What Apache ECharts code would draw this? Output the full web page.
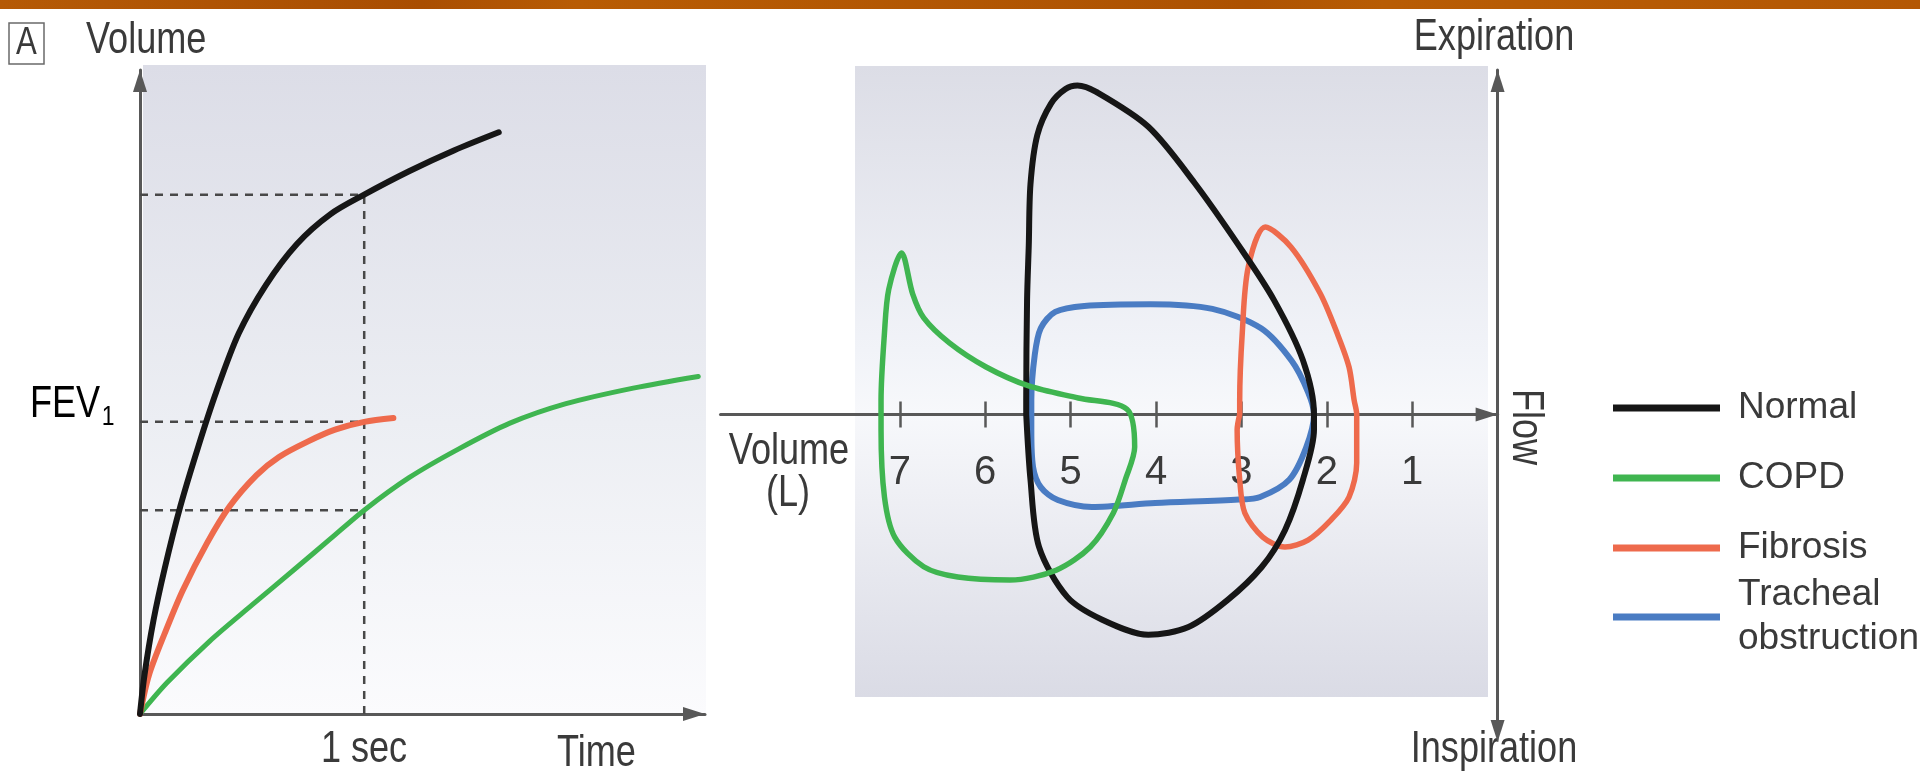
<!DOCTYPE html>
<html>
<head>
<meta charset="utf-8">
<script src="https://cdn.jsdelivr.net/npm/echarts@6/dist/echarts.min.js"></script>
<style>
  html, body { margin: 0; padding: 0; background: #ffffff; }
  #chart { width: 1920px; height: 779px; }
</style>
</head>
<body>
<div id="chart"></div>
<script>
// ---- Volume–time curves (time in s, volume in L) ----
const normalVolumeTime = [[0,0],[0.02,0.3],[0.06,0.72],[0.11,1.12],[0.18,1.6],[0.26,2.06],[0.34,2.48],[0.44,2.93],[0.56,3.3],[0.7,3.62],[0.85,3.85],[1.0,4.0],[1.2,4.18],[1.4,4.34],[1.6,4.48]];
const copdVolumeTime = [[0,0],[0.12,0.24],[0.31,0.56],[0.5,0.84],[0.7,1.13],[0.85,1.35],[1.0,1.57],[1.2,1.82],[1.42,2.04],[1.65,2.24],[1.9,2.39],[2.2,2.51],[2.49,2.6]];
const fibrosisVolumeTime = [[0,0],[0.04,0.3],[0.11,0.62],[0.19,0.95],[0.3,1.32],[0.4,1.6],[0.52,1.84],[0.62,1.98],[0.75,2.1],[0.87,2.19],[1.0,2.25],[1.13,2.28]];

// FEV1 levels read at 1 s: Normal, COPD, Fibrosis
const fev1Levels = [4.0, 1.57, 2.25];
const fev1Time = 1;

// ---- Flow–volume loops (volume in L, flow in L/s; expiration positive) ----
const normalLoop = [[5.52,0],[5.52,0.33],[5.51,2.66],[5.49,3.93],[5.47,5.35],[5.39,6.49],[5.23,7.22],[5.06,7.56],[4.92,7.64],[4.7,7.49],[4.09,6.68],[3.55,5.38],[3.02,3.89],[2.62,2.66],[2.28,1.26],[2.15,0],[2.15,-0.36],[2.28,-1.52],[2.49,-2.69],[2.76,-3.54],[3.16,-4.31],[3.62,-4.94],[4.09,-5.12],[4.63,-4.77],[5.04,-4.24],[5.37,-3.08],[5.47,-1.52],[5.52,0]];
const copdLoop = [[7.22,0],[7.22,0.33],[7.18,1.89],[7.13,2.9],[6.98,3.75],[6.85,2.8],[6.72,2.24],[6.42,1.66],[5.99,1.1],[5.49,0.66],[4.91,0.38],[4.34,0.12],[4.25,-0.76],[4.36,-1.52],[4.5,-2.29],[4.77,-3.08],[5.17,-3.62],[5.71,-3.85],[6.32,-3.78],[6.72,-3.54],[7.06,-2.85],[7.18,-1.92],[7.22,-0.36],[7.22,0]];
const fibrosisLoop = [[3.02,0],[3.02,0.33],[2.99,1.89],[2.92,3.42],[2.72,4.35],[2.42,3.89],[2.08,2.82],[1.88,1.89],[1.74,1.1],[1.68,0.33],[1.65,0],[1.65,-1.13],[1.74,-1.92],[1.95,-2.45],[2.22,-2.92],[2.49,-3.08],[2.75,-2.85],[2.96,-2.29],[3.02,-1.52],[3.05,-0.36],[3.02,0]];
const trachealLoop = [[5.46,0],[5.46,0.33],[5.42,1.38],[5.35,2.0],[5.18,2.38],[4.84,2.52],[4.06,2.56],[3.34,2.45],[2.77,2.0],[2.41,1.24],[2.22,0.52],[2.15,0],[2.24,-0.76],[2.44,-1.52],[2.78,-1.92],[3.03,-1.98],[4.01,-2.06],[4.75,-2.15],[5.15,-1.99],[5.35,-1.69],[5.44,-1.22],[5.46,-0.36],[5.46,0]];

const volumeTickValues = [1, 2, 3, 4, 5, 6, 7];

// ---- styling ----
const FONT = "'Liberation Sans',Arial,Helvetica,sans-serif";
const TEXT = '#3a3a3a';
const AXIS = '#585858';
const COLORS = { Normal: '#161616', COPD: '#3fb550', Fibrosis: '#ee6a4c', 'Tracheal obstruction': '#4a7cc3' };
const NARROW = 0.82;          // horizontal squeeze for the condensed lettering
const FLOW_ZERO_FROM_BOTTOM = 305.6;  // px from grid bottom to flow = 0
const FLOW_ZERO_FROM_TOP = 344.4;     // px from grid top to flow = 0

const chart = echarts.init(document.getElementById('chart'), null, { renderer: 'canvas' });

function curve(name, data, gridIdx, width) {
  return {
    type: 'line', name, data,
    xAxisIndex: gridIdx, yAxisIndex: gridIdx,
    smooth: 0.3, showSymbol: false, symbol: 'none',
    lineStyle: { color: COLORS[name], width: width, cap: 'round', join: 'round' },
    itemStyle: { color: COLORS[name] },
    z: 5, silent: true
  };
}
function dashed(data) {
  return {
    type: 'line', data, xAxisIndex: 0, yAxisIndex: 0,
    showSymbol: false, symbol: 'none', silent: true, z: 3,
    lineStyle: { color: '#484848', width: 2.5, type: [8, 7] }
  };
}
function label(text, x, y, align, extra) {
  return Object.assign({
    type: 'text', x, y, scaleX: NARROW,
    style: { text, font: '44px ' + FONT, fill: TEXT, align: align, verticalAlign: 'middle' }
  }, extra || {});
}

const dashSeries = [dashed([[fev1Time, 0], [fev1Time, fev1Levels[0]]])]
  .concat(fev1Levels.map(v => dashed([[0, v], [fev1Time, v]])));

const axisLineBase = (symbols) => ({
  show: true, onZero: false,
  symbol: symbols, symbolSize: [14, 22], symbolOffset: [-11, -11],
  lineStyle: { color: AXIS, width: 3 }
});

const legendText = { fontFamily: FONT, fontSize: 37, lineHeight: 44, color: TEXT, padding: [0, 0, 0, 13] };

const option = {
  animation: false,
  backgroundColor: '#ffffff',
  textStyle: { fontFamily: FONT },
  grid: [
    { left: 140, top: 70, width: 565, height: 644, show: false, containLabel: false, outerBoundsMode: 'none' },
    { left: 720.5, right: 422.4, top: 70, bottom: 59, show: false, containLabel: false, outerBoundsMode: 'none' }
  ],
  xAxis: [
    { gridIndex: 0, type: 'value', min: 0, max: 2.52, position: 'bottom',
      axisLine: axisLineBase(['none', 'triangle']),
      axisTick: { show: false }, axisLabel: { show: false }, splitLine: { show: false } },
    { gridIndex: 1, type: 'value', min: 0, max: 9.1, inverse: true,
      position: 'bottom', offset: -FLOW_ZERO_FROM_BOTTOM,
      axisLine: axisLineBase(['none', 'triangle']),
      axisTick: { show: true, customValues: volumeTickValues, length: 13, lineStyle: { color: AXIS, width: 2.5 } },
      axisLabel: { show: true, customValues: volumeTickValues, margin: 39, fontSize: 40, color: TEXT, fontFamily: FONT },
      splitLine: { show: false } },
    { gridIndex: 1, type: 'value', min: 0, max: 9.1, inverse: true,
      position: 'top', offset: -FLOW_ZERO_FROM_TOP,
      axisLine: { show: false, onZero: false },
      axisTick: { show: true, inside: false, customValues: volumeTickValues, length: 13, lineStyle: { color: AXIS, width: 2.5 } },
      axisLabel: { show: false }, splitLine: { show: false } }
  ],
  yAxis: [
    { gridIndex: 0, type: 'value', min: 0, max: 4.96, position: 'left',
      axisLine: axisLineBase(['none', 'triangle']),
      axisTick: { show: false }, axisLabel: { show: false }, splitLine: { show: false } },
    { gridIndex: 1, type: 'value', min: -7.1, max: 8, position: 'right',
      axisLine: axisLineBase(['triangle', 'triangle']),
      axisTick: { show: false }, axisLabel: { show: false }, splitLine: { show: false } }
  ],
  legend: [
    { orient: 'vertical', left: 1608, top: 381,
      itemWidth: 107, itemHeight: 7, itemGap: 26, icon: 'rect', selectedMode: false,
      textStyle: legendText,
      data: ['Normal', 'COPD', 'Fibrosis'] },
    { orient: 'vertical', left: 1608, top: 546,
      itemWidth: 107, itemHeight: 7, icon: 'rect', selectedMode: false,
      textStyle: Object.assign({}, legendText, { padding: [44, 0, 0, 13] }),
      data: ['Tracheal obstruction'],
      formatter: () => 'Tracheal\nobstruction' }
  ],
  graphic: [
    { type: 'rect', z: -10, shape: { x: 0, y: 0, width: 1920, height: 9 },
      style: { fill: new echarts.graphic.LinearGradient(0, 0, 1, 0, [
        { offset: 0, color: '#b55a06' }, { offset: 0.22, color: '#a94e02' }, { offset: 0.3, color: '#b85c04' },
        { offset: 0.65, color: '#ad5202' }, { offset: 0.72, color: '#b85c04' }, { offset: 1, color: '#b45804' }]) } },
    { type: 'rect', z: -10, shape: { x: 143, y: 65, width: 563, height: 649 },
      style: { fill: new echarts.graphic.LinearGradient(0, 0, 0, 1, [
        { offset: 0, color: '#dcdde7' }, { offset: 0.55, color: '#eceef3' }, { offset: 1, color: '#fbfbfd' }]) } },
    { type: 'rect', z: -10, shape: { x: 855, y: 66, width: 633, height: 631 },
      style: { fill: new echarts.graphic.LinearGradient(0, 0, 0, 1, [
        { offset: 0, color: '#dcdde6' }, { offset: 0.45, color: '#f1f3f8' }, { offset: 0.55, color: '#f7f8fb' },
        { offset: 1, color: '#dadbe5' }]) } },
    { type: 'rect', shape: { x: 9, y: 23, width: 35, height: 41 },
      style: { fill: 'none', stroke: '#6a6a6a', lineWidth: 1.5 } },
    label('A', 26.5, 44, 'center', { style: { text: 'A', font: '38px ' + FONT, fill: TEXT, align: 'center', verticalAlign: 'middle' } }),
    label('Volume', 86, 41, 'left'),
    { type: 'text', x: 30, y: 405, scaleX: NARROW, style: {
        text: '{m|FEV}{s|1}', align: 'left', verticalAlign: 'middle',
        rich: { m: { fontSize: 44, fontFamily: FONT, color: TEXT }, s: { fontSize: 28, fontFamily: FONT, color: TEXT, padding: [24, 0, 0, 2] } } } },
    label('1 sec', 364, 750, 'center'),
    label('Time', 557, 754, 'left'),
    label('Expiration', 1494, 38, 'center'),
    label('Inspiration', 1494, 750, 'center'),
    label('Flow', 1525, 427, 'center', { rotation: -Math.PI / 2 }),
    label('Volume', 789, 452, 'center'),
    label('(L)', 788, 494, 'center')
  ],
  series: [
    curve('COPD', copdVolumeTime, 0, 5),
    curve('Fibrosis', fibrosisVolumeTime, 0, 6),
    curve('Normal', normalVolumeTime, 0, 6)
  ].concat(dashSeries).concat([
    curve('Tracheal obstruction', trachealLoop, 1, 6),
    curve('Fibrosis', fibrosisLoop, 1, 5.5),
    curve('Normal', normalLoop, 1, 6),
    curve('COPD', copdLoop, 1, 5.5)
  ])
};

chart.setOption(option);
</script>
</body>
</html>
